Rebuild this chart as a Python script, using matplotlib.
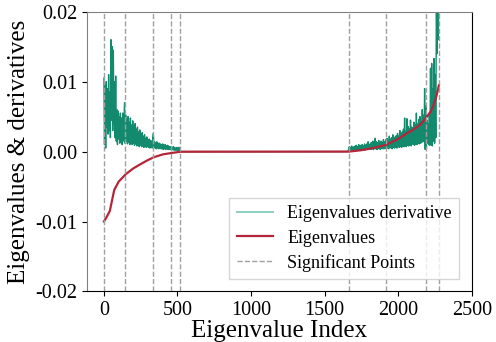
import matplotlib
matplotlib.use("Agg")
import matplotlib.pyplot as plt
import numpy as np

plt.rcParams["font.family"] = ["Liberation Serif", "DejaVu Serif"]
plt.rcParams["axes.unicode_minus"] = False

# eigenvalue curve (index, value)
eig_idx = [0, 20, 40, 70, 100, 150, 200, 240, 300, 340, 400, 460, 520,
           1666, 1750, 1850, 1916, 2000, 2058, 2100, 2148, 2189, 2220, 2236,
           2255, 2270, 2277]
eig_val = [-0.0100, -0.0093, -0.0085, -0.0055, -0.0043, -0.0032, -0.0024,
           -0.0019, -0.0012, -0.0008, -0.0004, -0.0002, -0.00002,
           0.0, 0.0002, 0.0006, 0.00096, 0.0018, 0.0026, 0.0031, 0.0038,
           0.0048, 0.0057, 0.0064, 0.0075, 0.0088, 0.0095]

# derivative, sampled every 4 indices on the two active blocks
deriv_step = 4
deriv_left_start = 0
deriv_left = [
    0.0105, 0.0010, 0.0095, 0.0005, 0.0100, 0.0035, 0.0090, 0.0025, 0.0110, 0.0030,
    0.0085, 0.0020, 0.0160, 0.0045, 0.0150, 0.0030, 0.0145, 0.0040, 0.0100, 0.0020,
    0.0108, 0.0015, 0.0060, 0.0010, 0.0058, 0.0018, 0.0050, 0.0012, 0.0055, 0.0020,
    0.0048, 0.0010, 0.0055, 0.0015, 0.0045, 0.0070, 0.0012, 0.0052, 0.0015, 0.0046,
    0.0011, 0.0050, 0.0013, 0.0042, 0.0010, 0.0048, 0.0014, 0.0038, 0.0010, 0.0044,
    0.0012, 0.0036, 0.0009, 0.0040, 0.0011, 0.0032, 0.0008, 0.0035, 0.0010, 0.0028,
    0.0007, 0.0031, 0.0009, 0.0025, 0.0007, 0.0027, 0.0008, 0.0022, 0.0006, 0.0024,
    0.0008, 0.0019, 0.0006, 0.0021, 0.0007, 0.0017, 0.0006, 0.0018, 0.0005, 0.0016,
    0.0006, 0.0015, 0.0005, 0.0018, 0.0026, 0.0006, 0.0014, 0.0005, 0.0013, 0.0004,
    0.0014, 0.0005, 0.0012, 0.0004, 0.0012, 0.0005, 0.0011, 0.0004, 0.0010, 0.0004,
    0.0011, 0.0003, 0.0009, 0.0004, 0.0010, 0.0003, 0.0008, 0.0004, 0.0009, 0.0003,
    0.0008, 0.0003, 0.0007, 0.0003, 0.0007, 0.0002, 0.0006, 0.0003, 0.0007, 0.0002,
    0.0006, 0.0002, 0.0005, 0.0002, 0.0006, 0.0002, 0.0005, 0.0001, 0.0006, 0.0002,
    0.0001,
]
deriv_mid_idx = [528, 1656]
deriv_mid = [0.0, 0.0]
deriv_right_start = 1664
deriv_right = [
    0.0003, 0.0007, 0.0001, 0.0006, 0.0002, 0.0008, 0.0002, 0.0006, 0.0001, 0.0007,
    0.0002, 0.0008, 0.0002, 0.0009, 0.0003, 0.0007, 0.0002, 0.0010, 0.0003, 0.0008,
    0.0002, 0.0009, 0.0003, 0.0010, 0.0002, 0.0008, 0.0003, 0.0011, 0.0002, 0.0009,
    0.0003, 0.0011, 0.0003, 0.0014, 0.0003, 0.0010, 0.0004, 0.0012, 0.0003, 0.0013,
    0.0004, 0.0015, 0.0003, 0.0012, 0.0004, 0.0019, 0.0004, 0.0014, 0.0003, 0.0013,
    0.0004, 0.0016, 0.0004, 0.0013, 0.0003, 0.0015, 0.0005, 0.0013, 0.0004, 0.0017,
    0.0004, 0.0014, 0.0005, 0.0017, 0.0004, 0.0019, 0.0005, 0.0016, 0.0004, 0.0022,
    0.0006, 0.0018, 0.0005, 0.0020, 0.0004, 0.0024, 0.0006, 0.0019, 0.0005, 0.0021,
    0.0006, 0.0023, 0.0005, 0.0026, 0.0007, 0.0022, 0.0006, 0.0030, 0.0007, 0.0025,
    0.0006, 0.0028, 0.0008, 0.0032, 0.0007, 0.0048, 0.0008, 0.0029, 0.0007, 0.0047,
    0.0009, 0.0036, 0.0008, 0.0033, 0.0010, 0.0045, 0.0008, 0.0035, 0.0011, 0.0034,
    0.0010, 0.0042, 0.0009, 0.0038, 0.0011, 0.0055, 0.0010, 0.0040, 0.0012, 0.0046,
    0.0011, 0.0050, 0.0012, 0.0043, 0.0013, 0.0060, 0.0015, 0.0052, 0.0014, 0.0090,
    0.0003, 0.0065, 0.0004, 0.0045, 0.0012, 0.0040, 0.0010, 0.0055, 0.0009, 0.0119,
    0.0010, 0.0126, 0.0008, 0.0090, 0.0015, 0.0133, 0.0012, 0.0110, 0.0020, 0.0220,
    0.0140, 0.0230, 0.0160, 0.0210,
]

sig_points = [0, 143, 337, 457, 520, 1666, 1916, 2189, 2277]

deriv_idx = np.concatenate([
    deriv_left_start + deriv_step * np.arange(len(deriv_left)),
    deriv_mid_idx,
    deriv_right_start + deriv_step * np.arange(len(deriv_right)),
])
deriv_val = np.concatenate([deriv_left, deriv_mid, deriv_right])

fig = plt.figure(figsize=(4.96, 3.42), dpi=100)
ax = fig.add_axes([0.1754, 0.1477, 0.7756, 0.8181])

ax.plot(deriv_idx, deriv_val, color="#138a6e", lw=1.0, label="Eigenvalues derivative")
ax.plot(eig_idx, eig_val, color="#b52539", lw=1.6, label="Eigenvalues")
for i, p in enumerate(sig_points):
    ax.axvline(p, color="#a0a0a0", ls="--", lw=1.0,
               label="Significant Points" if i == 0 else None)

ax.set_xlim(-115, 2500)
ax.set_ylim(-0.02, 0.02)
ax.set_xticks([0, 500, 1000, 1500, 2000, 2500])
ax.set_yticks([-0.02, -0.01, 0.0, 0.01, 0.02])
ax.set_yticklabels(["-0.02", "-0.01", "0.00", "0.01", "0.02"])
ax.tick_params(labelsize=14.5)

ax.spines["left"].set_color("#808080")
ax.spines["top"].set_color("#808080")
ax.spines["right"].set_color("black")
ax.spines["bottom"].set_color("black")

ax.set_xlabel("Eigenvalue Index", fontsize=18, labelpad=0)
ax.set_ylabel("Eigenvalues & derivatives", fontsize=18, labelpad=4)

leg = ax.legend(loc="lower right", fontsize=13, fancybox=False,
                edgecolor="#cccccc", borderaxespad=0.7, labelspacing=0.4)
leg.legend_handles[0].set_color("#86cbb8")
leg.legend_handles[0].set_linewidth(1.3)

fig.savefig("out.png", dpi=100)
